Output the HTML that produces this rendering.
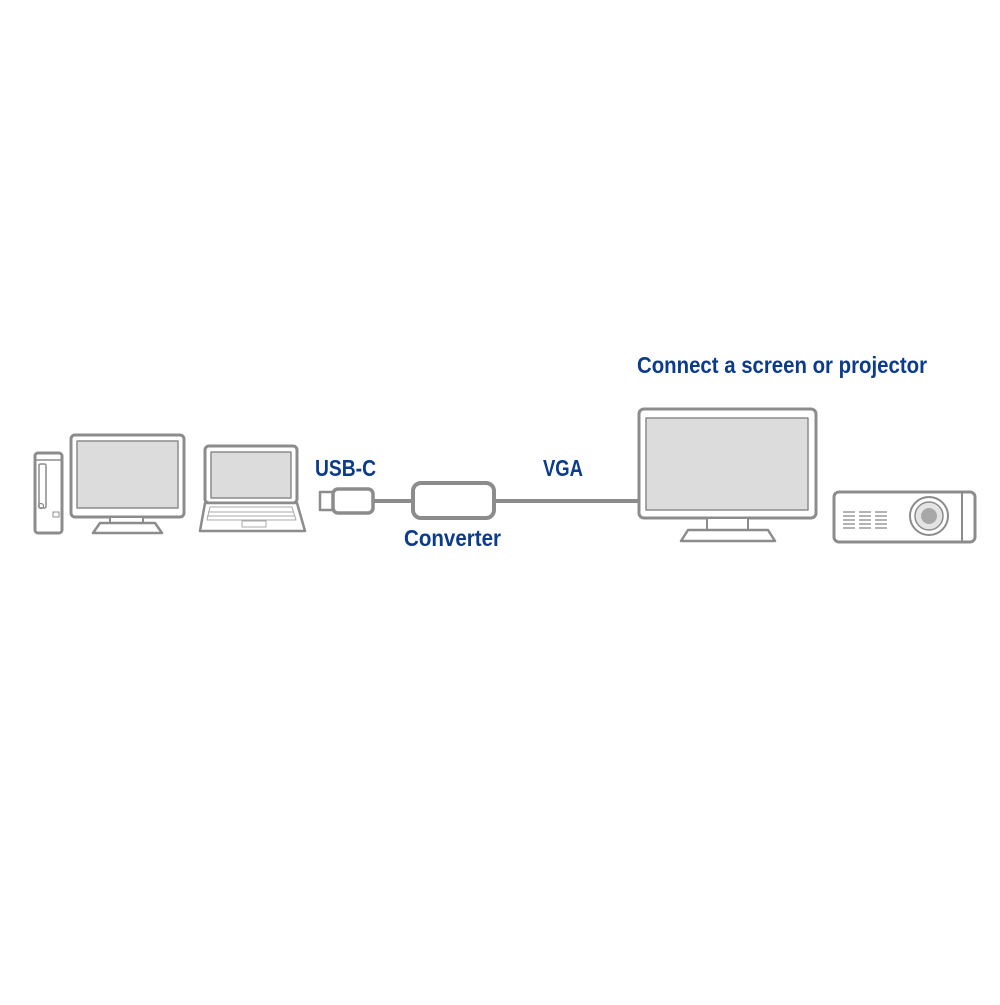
<!DOCTYPE html>
<html><head><style>html,body{margin:0;padding:0;background:#fff}</style></head><body>
<svg width="1000" height="1000" viewBox="0 0 1000 1000" xmlns="http://www.w3.org/2000/svg">
<rect width="1000" height="1000" fill="#fff"/>
<g fill="none" stroke="#8c8c8c" stroke-width="3" stroke-linejoin="round">
<!-- tower -->
<rect x="35" y="453" width="27" height="80" rx="3" fill="#fff"/>
<line x1="35" y1="460" x2="62" y2="460" stroke-width="1.5"/>
<rect x="39" y="464" width="7" height="44" rx="1.5" stroke-width="1.5"/>
<circle cx="41" cy="506" r="2.5" stroke-width="1.2"/>
<rect x="53" y="512" width="6" height="5" stroke-width="1"/>
<!-- left monitor -->
<rect x="71" y="435" width="113" height="82" rx="4" fill="#fff"/>
<rect x="77" y="441" width="101" height="67" fill="#dcdcdc" stroke-width="1.5"/>
<rect x="110" y="517" width="33" height="6" stroke-width="2" fill="#fff"/>
<path d="M100 523 L155 523 L162 533 L93 533 Z" fill="#fff" stroke-width="2.5"/>
<!-- laptop -->
<rect x="205" y="446" width="92" height="57" rx="4" fill="#fff"/>
<rect x="211" y="452" width="80" height="46" fill="#dcdcdc" stroke-width="1.5"/>
<path d="M205 503 L297 503 L305 531 L200 531 Z" fill="#fff" stroke-width="2.5"/>
<path d="M210 507 L292 507 L296 520 L207 520 Z" stroke-width="1" stroke="#aaa"/>
<line x1="208" y1="512" x2="294" y2="512" stroke-width="1" stroke="#aaa"/>
<line x1="207" y1="516" x2="295" y2="516" stroke-width="1" stroke="#aaa"/>
<rect x="242" y="521" width="24" height="6" stroke-width="1" stroke="#aaa"/>
<!-- usb plug -->
<rect x="320" y="492" width="14" height="18" stroke-width="2.5"/>
<rect x="333" y="489" width="40" height="24" rx="5" fill="#fff" stroke-width="3.5"/>
<line x1="373" y1="501" x2="413" y2="501" stroke-width="4"/>
<rect x="413" y="483" width="81" height="35" rx="8" fill="#fff" stroke-width="4"/>
<line x1="494" y1="501" x2="640" y2="501" stroke-width="4"/>
<!-- big monitor -->
<rect x="639" y="409" width="177" height="109" rx="5" fill="#fff"/>
<rect x="646" y="418" width="162" height="92" fill="#dcdcdc" stroke-width="1.5"/>
<rect x="707" y="518" width="41" height="12" stroke-width="2" fill="#fff"/>
<path d="M688 530 L768 530 L775 541 L681 541 Z" fill="#fff" stroke-width="2.5"/>
<!-- projector -->
<rect x="834" y="492" width="141" height="50" rx="5" fill="#fff"/>
<line x1="962" y1="493" x2="962" y2="541" stroke-width="2"/>
<circle cx="929" cy="516" r="19" fill="#fff" stroke-width="2"/>
<circle cx="929" cy="516" r="14" fill="#e4e4e4" stroke-width="1.5"/>
<circle cx="929" cy="516" r="8" fill="#a8a8a8" stroke="none"/>
<g stroke-width="1.5" stroke="#9a9a9a">
<path d="M843 512h12M843 516h12M843 520h12M843 524h12M843 528h12"/>
<path d="M859 512h12M859 516h12M859 520h12M859 524h12M859 528h12"/>
<path d="M875 512h12M875 516h12M875 520h12M875 524h12M875 528h12"/>
</g>
</g>
<g fill="#0b3b8c" font-family="Liberation Sans, sans-serif" font-weight="bold" font-size="23">
<text x="315" y="476" textLength="61" lengthAdjust="spacingAndGlyphs">USB-C</text>
<text x="404" y="546" textLength="97" lengthAdjust="spacingAndGlyphs">Converter</text>
<text x="543" y="476" textLength="40" lengthAdjust="spacingAndGlyphs">VGA</text>
<text x="637" y="373" textLength="290" lengthAdjust="spacingAndGlyphs">Connect a screen or projector</text>
</g>
</svg>
</body></html>
